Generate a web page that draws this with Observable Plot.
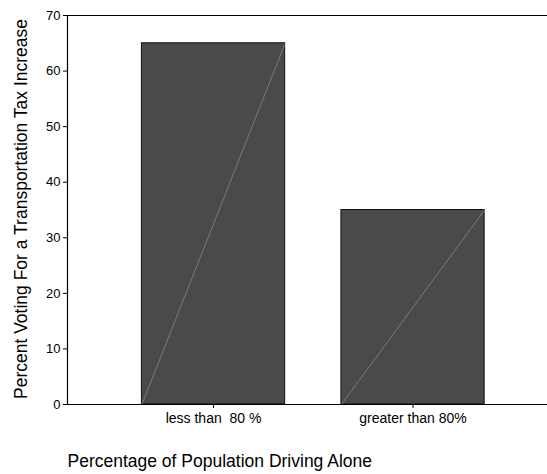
<!DOCTYPE html>
<html>
<head>
<meta charset="utf-8">
<script src="https://cdn.jsdelivr.net/npm/d3@7"></script>
<script src="https://cdn.jsdelivr.net/npm/@observablehq/plot@0.6"></script>
<style>
  html, body { margin: 0; padding: 0; background: #fff; }
  svg text { white-space: pre; }
</style>
</head>
<body>
<div id="chart"></div>
<script>
const categories = ["less than  80 %", "greater than 80%"];
const values = [65, 35];
const yTicks = [0, 10, 20, 30, 40, 50, 60, 70];
const yLabel = "Percent Voting For a Transportation Tax Increase";
const xLabel = "Percentage of Population Driving Alone";

const data = categories.map((c, i) => ({category: c, index: i, value: values[i]}));
const indices = categories.map((c, i) => i);

const halfWidth = 0.359;
const xDomain = [-0.732, 1.674];
const yDomain = [0, 70];
const font = "'Liberation Sans', Arial, Helvetica, sans-serif";

const chart = Plot.plot({
  width: 547,
  height: 474,
  marginLeft: 67,
  marginRight: 0,
  marginTop: 15,
  marginBottom: 70,
  style: {fontFamily: font, background: "#fff", color: "#000"},
  x: {type: "linear", domain: xDomain},
  y: {domain: yDomain},
  marks: [
    Plot.rectY(data, {
      x1: d => d.index - halfWidth,
      x2: d => d.index + halfWidth,
      y: "value",
      fill: "#4a4a4a",
      stroke: "#111",
      strokeWidth: 1
    }),
    Plot.link(data, {
      x1: d => d.index - halfWidth,
      y1: 0,
      x2: d => d.index + halfWidth,
      y2: "value",
      stroke: "#9a9a9a",
      strokeWidth: 0.6
    }),
    Plot.ruleY(yDomain, {stroke: "#000", strokeWidth: 1.2}),
    Plot.ruleX([xDomain[0]], {stroke: "#000", strokeWidth: 1.2}),
    Plot.axisX({
      ticks: indices,
      tickFormat: i => categories[i],
      tickSize: 4,
      tickPadding: 5,
      fontSize: 14,
      label: null
    }),
    Plot.axisY({
      ticks: yTicks,
      tickSize: 4,
      tickPadding: 3,
      fontSize: 13,
      label: null
    }),
    Plot.text([yLabel], {
      text: d => d,
      frameAnchor: "left",
      textAnchor: "middle",
      rotate: -90,
      dx: -41,
      dy: -1,
      lineAnchor: "bottom",
      fontSize: 17.5,
      fill: "#000"
    }),
    Plot.text([xLabel], {
      text: d => d,
      frameAnchor: "bottom-left",
      textAnchor: "start",
      lineAnchor: "bottom",
      dy: 62,
      fontSize: 17.5,
      fill: "#000"
    })
  ]
});
document.getElementById("chart").appendChild(chart);
</script>
</body>
</html>
